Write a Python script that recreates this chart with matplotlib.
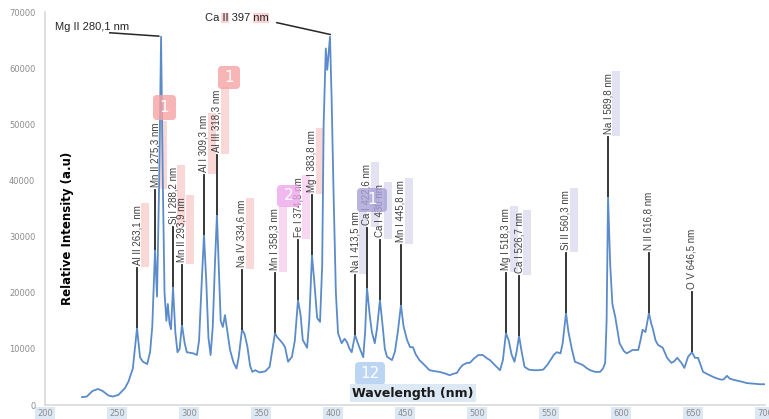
import matplotlib
matplotlib.use("Agg")
import matplotlib.pyplot as plt
from matplotlib.patches import Rectangle, FancyBboxPatch
from matplotlib.transforms import IdentityTransform

# spectrum (nm, a.u.)
wavelength = [
    225.7, 229, 233, 236.8, 240, 244, 247, 251, 255.5, 258, 261, 263.9, 266, 268,
    271, 273, 274.5, 276.4, 277.8, 279.3, 280.6, 281.8, 283, 284.3, 285.3, 286.5,
    287.5, 288.9, 290.5, 292, 293.5, 295.1, 297, 298.5, 301, 303, 305.5, 307,
    308.5, 310.4, 312, 313.5, 315, 316.5, 318, 319.4, 320.8, 322, 323.5, 325, 327,
    328.5, 331, 333, 334.5, 336.8, 338.5, 340.5, 342.4, 344, 346, 349, 353, 356,
    359.7, 361.5, 363, 365, 366.7, 368.8, 371.5, 373.5, 375.7, 377.5, 379, 382,
    383.5, 385.4, 387, 389, 391, 392.5, 393.5, 395, 396, 397.9, 399, 400.5, 402,
    403.5, 406, 408, 409.7, 411.5, 413, 415.3, 417, 419, 421, 422.3, 423.6, 425.5,
    427, 429, 430.5, 432.6, 434.5, 436, 437.5, 441, 443, 445, 447.2, 449, 451.4,
    453.5, 455.5, 457.5, 460, 464, 467, 471, 474, 478, 481, 484, 486, 488, 490,
    493, 495, 498, 501, 504, 507, 509, 512, 516, 518, 520.1, 522, 524, 526, 527.5,
    529.2, 531, 533, 536, 539, 543, 546, 549, 551, 553.5, 555.5, 558, 559.5,
    561.8, 563.5, 566, 568, 571, 573.6, 576, 578.5, 582, 585.5, 587.5, 589, 590,
    591, 592.5, 594, 596, 599, 602, 604, 606, 608, 612, 613.5, 615, 617, 619.4,
    621, 622, 624, 625.7, 629, 632, 635, 637, 639, 642, 644, 646.6, 649.3, 651.4,
    653.5, 655.5, 657, 660, 664, 667, 670, 671.5, 673.6, 675.5, 678, 683, 687.5,
    692, 696.5, 700,
]
intensity = [
    1400, 1500, 2500, 2850, 2500, 1700, 1500, 1800, 3000, 4200, 6500, 13700, 8500, 7700,
    7300, 9500, 14000, 27600, 19300, 40000, 65600, 40000, 20000, 15000, 18000, 14500,
    13500, 21000, 13000, 9400, 10000, 14300, 11000, 9400, 9300, 9200, 8900, 11500,
    20000, 30300, 22000, 12000, 8900, 14000, 25000, 33900, 24000, 15000, 13900, 16000, 12500,
    9800, 7500, 6500, 8500, 13400, 12700, 10500, 7000, 5900, 6200, 5800, 6000, 6800,
    12800, 12000, 11600, 11000, 10300, 7700, 8600, 11500, 18700, 16000, 11600, 10200,
    15000, 26700, 22000, 15500, 14800, 25000, 50000, 63500, 59700, 65600, 55000, 36500, 20000,
    12800, 11000, 11800, 11200, 10000, 9400, 12500, 11200, 9800, 8500, 13000, 20900, 16000,
    13000, 11000, 13500, 18700, 14000, 10000, 8600, 8000, 9500, 13000, 17800, 14000, 11600,
    10300, 10300, 9000, 8000, 7000, 6200, 6000, 5900, 5600, 5300, 5600, 5700, 6500, 7100,
    7500, 7500, 8300, 8900, 8900, 8300, 8000, 7200, 6200, 8000, 12800, 11500, 9000, 7700, 9500,
    12300, 9500, 6800, 6300, 6200, 6200, 6300, 7200, 8000, 9000, 9400, 9200, 11000,
    16400, 13000, 9800, 7700, 7400, 7100, 6600, 6200, 5900, 5900, 6500, 7500, 15000,
    37100, 25000, 18000, 15700, 11000, 9600, 9200, 9500, 9800, 9800, 11500, 13400, 13000, 16400,
    14500, 13700, 11500, 10700, 10200, 8400, 7500, 7800, 8400, 7500, 6600, 8600, 9400, 8400,
    8400, 7000, 5900, 5500, 5000, 4700, 4500, 4600, 5200, 4700, 4500, 4200, 3900,
    3800, 3700, 3700,
]

# vertical peak labels
line_names = [
    "Al II 263,1 nm", "Mn II 275,3 nm", "Si I 288,2 nm", "Mn II 293,9 nm",
    "Al I 309,3 nm", "Al III 318,3 nm", "Na IV 334,6 nm", "Mn I 358,3 nm",
    "Fe I 374,8 nm", "Mg I 383,8 nm", "Na I 413,5 nm", "Ca I 422,6 nm",
    "Ca I 430 nm", "Mn I 445,8 nm", "Mg I 518,3 nm", "Ca I 526,7 nm",
    "Si II 560,3 nm", "Na I 589,8 nm", "N II 616,8 nm", "O V 646,5 nm",
]
line_wl = [263.9, 276.4, 288.9, 295.1, 310.4, 319.4, 336.8, 359.7, 375.7, 385.4,
           415.3, 423.6, 432.6, 447.2, 520.1, 529.2, 561.8, 591.0, 619.4, 649.3]
line_peak = [13700, 27600, 21000, 14300, 30300, 33900, 13400, 12800, 18700, 26700,
             12500, 20900, 18700, 17800, 12800, 12300, 16400, 37100, 16400, 9400]

PINK, MAG, LAV = "#fbcfcf", "#f7cdf0", "#dddbf1"
hl_colors = [PINK, PINK, PINK, PINK, PINK, PINK, PINK, MAG, MAG, PINK,
             LAV, LAV, LAV, LAV, LAV, LAV, LAV, LAV, None, None]

W, H = 769, 419
fig = plt.figure(figsize=(W / 100, H / 100), dpi=100)
ax = fig.add_axes([45 / W, 1 - 405 / H, 720 / W, 393 / H])

ax.plot(wavelength, intensity, color="#5b8bc9", lw=1.3, zorder=2)
ax.set_xlim(200, 700)
ax.set_ylim(0, 70000)
ax.set_xticks(range(200, 701, 50))
ax.set_yticks(range(0, 70001, 10000))
ax.tick_params(length=0, labelsize=6, labelcolor="#8c8c8c")
ax.tick_params(axis="y", pad=7)
ax.tick_params(axis="x", pad=3)
for lab in ax.get_xticklabels():
    lab.set_bbox(dict(facecolor="#dde8f5", edgecolor="none", pad=1.2))
for s in ["top", "right"]:
    ax.spines[s].set_visible(False)
for s in ["left", "bottom"]:
    ax.spines[s].set_color("#d9d9d9")
    ax.spines[s].set_linewidth(1.2)

label_font = ["Liberation Sans", "DejaVu Sans"]
seg = 10700
texts = []
for name, x, y in zip(line_names, line_wl, line_peak):
    ax.plot([x, x], [y + 200, y + seg], color="#262626", lw=1.3, zorder=3)
    t = ax.text(x, y + seg + 500, name, rotation=90, ha="center", va="bottom",
                fontsize=7, color="#404040", family=label_font, zorder=4)
    texts.append(t)

# the two tall peaks get horizontal labels with leader lines
ax.text(207, 67400, "Mg II 280,1 nm", ha="left", va="center", fontsize=8,
        color="#262626", family=label_font, zorder=4)
ax.plot([245, 279], [66300, 65700], color="#262626", lw=1.1, zorder=3)
ca = ax.text(311, 69000, "Ca II 397 nm", ha="left", va="center", fontsize=8,
             color="#262626", family=label_font, zorder=4)
ax.plot([361, 398], [68100, 66000], color="#262626", lw=1.1, zorder=3)

fig.text(68 / W, 1 - 228 / H, "Relative Intensity (a.u)", rotation=90,
         ha="center", va="center", fontsize=8.5, fontweight="bold")
fig.text(413 / W, 1 - 393 / H, "Wavelength (nm)", ha="center", va="center",
         fontsize=9, fontweight="bold", color="#1a1a1a",
         bbox=dict(facecolor="#dde8f5", edgecolor="none", pad=1.5))

# highlight strips next to the labels
fig.canvas.draw()
r = fig.canvas.get_renderer()
for t, col in zip(texts, hl_colors):
    if col is None:
        continue
    bb = t.get_window_extent(r)
    ax.add_patch(Rectangle((bb.x1 - 1, bb.y0 - 2), 8, bb.height + 4,
                           transform=IdentityTransform(), facecolor=col,
                           edgecolor="none", alpha=0.8, zorder=1.5, clip_on=False))
bb = ca.get_window_extent(r)
for f0, f1 in [(0.26, 0.38), (0.75, 1.0)]:
    ax.add_patch(Rectangle((bb.x0 + f0 * bb.width, bb.y0), (f1 - f0) * bb.width,
                           bb.height, transform=IdentityTransform(), facecolor=PINK,
                           edgecolor="none", alpha=0.9, zorder=1.5, clip_on=False))

# numbered badges
badges = [
    (153, 95, 176, 120, "#f6a3a3", "1"),
    (218, 66, 240, 89, "#f6a3a3", "1"),
    (277, 185, 300, 207, "#eea6ec", "2"),
    (357, 188, 387, 212, "#a8a3d8", "1"),
    (355, 362, 385, 385, "#abcbf0", "12"),
]
for x0, y0, x1, y1, col, txt in badges:
    fig.add_artist(FancyBboxPatch((x0, H - y1), x1 - x0, y1 - y0,
                                  boxstyle="round,pad=0,rounding_size=4",
                                  transform=IdentityTransform(), facecolor=col,
                                  edgecolor="none", alpha=0.8))
    fig.text((x0 + x1) / 2 / W, 1 - (y0 + y1) / 2 / H, txt, ha="center",
             va="center", fontsize=11, color="white")

fig.savefig("out.png", dpi=100)
